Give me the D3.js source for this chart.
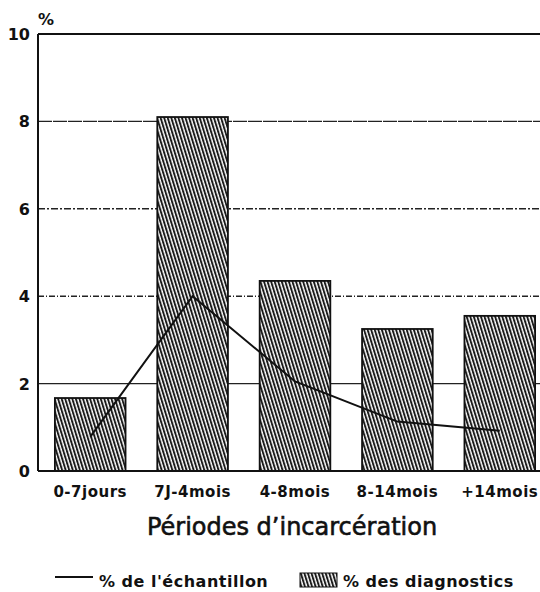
<!DOCTYPE html>
<html>
<head>
<meta charset="utf-8">
<script src="https://cdn.jsdelivr.net/npm/d3@7"></script>
<style>
  body { margin: 0; background: #fff; }
  svg { display: block; font-family: "DejaVu Sans", "Liberation Sans", sans-serif; }
  .tick-label { font-weight: bold; font-size: 16px; fill: #111; }
  .cat-label { font-weight: bold; font-size: 15px; fill: #111; letter-spacing: 0.5px; }
  .leg-label { font-weight: bold; font-size: 16px; fill: #111; letter-spacing: 0.5px; }
</style>
</head>
<body>
<div id="chart"></div>
<script>
const categories = ["0-7jours", "7J-4mois", "4-8mois", "8-14mois", "+14mois"];
const diagnostics = [1.67, 8.1, 4.35, 3.25, 3.55];
const echantillon = [0.78, 4.0, 2.05, 1.13, 0.92];
const yTicks = [0, 2, 4, 6, 8, 10];

const width = 540, height = 592;
const margin = { top: 34, right: -12, bottom: 121, left: 38 };
const innerW = width - margin.left - margin.right;
const innerH = height - margin.top - margin.bottom;

const svg = d3.select("#chart").append("svg").attr("width", width).attr("height", height);

const defs = svg.append("defs");
const hatch = defs.append("pattern")
  .attr("id", "hatch")
  .attr("patternUnits", "userSpaceOnUse")
  .attr("width", 3.4).attr("height", 4)
  .attr("patternTransform", "rotate(-17)");
hatch.append("rect").attr("width", 3.4).attr("height", 4).attr("fill", "#fff");
hatch.append("line").attr("x1", 1).attr("y1", 0).attr("x2", 1).attr("y2", 4)
  .attr("stroke", "#151515").attr("stroke-width", 1.9);

const g = svg.append("g").attr("transform", `translate(${margin.left},${margin.top})`);

const x = d3.scaleBand().domain(categories).range([0, innerW])
  .paddingInner(0.31).paddingOuter(0.165);
const y = d3.scaleLinear().domain([0, 10]).range([innerH, 0]);

// grid lines, each with its own dash look
const gridDash = { 2: null, 4: "6 2 1 2", 6: "7 2 2 2", 8: "14 1" };
g.append("g").selectAll("line")
  .data([2, 4, 6, 8])
  .join("line")
  .attr("x1", 0).attr("x2", innerW)
  .attr("y1", d => y(d)).attr("y2", d => y(d))
  .attr("stroke", "#222")
  .attr("stroke-width", 1.4)
  .attr("stroke-dasharray", d => gridDash[d]);

// frame: top, left
g.append("line").attr("x1", 0).attr("x2", innerW).attr("y1", y(10)).attr("y2", y(10))
  .attr("stroke", "#111").attr("stroke-width", 2);
g.append("line").attr("x1", 0).attr("x2", 0).attr("y1", y(10)).attr("y2", y(0))
  .attr("stroke", "#111").attr("stroke-width", 2);

// bars
g.append("g").selectAll("rect")
  .data(categories)
  .join("rect")
  .attr("x", d => x(d))
  .attr("width", x.bandwidth())
  .attr("y", (d, i) => y(diagnostics[i]))
  .attr("height", (d, i) => y(0) - y(diagnostics[i]))
  .attr("fill", "url(#hatch)")
  .attr("stroke", "#111")
  .attr("stroke-width", 1.8);

g.append("line").attr("x1", 0).attr("x2", innerW).attr("y1", y(0)).attr("y2", y(0))
  .attr("stroke", "#111").attr("stroke-width", 2.2);

// line series
const line = d3.line()
  .x((d, i) => x(categories[i]) + x.bandwidth() / 2)
  .y(d => y(d));
g.append("path")
  .datum(echantillon)
  .attr("d", line)
  .attr("fill", "none")
  .attr("stroke", "#111")
  .attr("stroke-width", 2);

// y tick labels
g.append("g").selectAll("text")
  .data(yTicks)
  .join("text")
  .attr("class", "tick-label")
  .attr("x", -8)
  .attr("y", d => y(d) + 6)
  .attr("text-anchor", "end")
  .text(d => d);

g.append("text").attr("class", "tick-label")
  .attr("x", 0).attr("y", -9).attr("font-size", 14).text("%");

// category labels
g.append("g").selectAll("text")
  .data(categories)
  .join("text")
  .attr("class", "cat-label")
  .attr("x", d => x(d) + x.bandwidth() / 2)
  .attr("y", innerH + 26)
  .attr("text-anchor", "middle")
  .text(d => d);

// title, slightly heavier than the regular weight
svg.append("text")
  .attr("x", 292).attr("y", 535)
  .attr("text-anchor", "middle")
  .attr("font-size", 24)
  .attr("fill", "#111")
  .attr("stroke", "#111")
  .attr("stroke-width", 0.6)
  .text("Périodes d’incarcération");

// legend
const leg = svg.append("g").attr("transform", "translate(0,581)");
leg.append("line").attr("x1", 55).attr("x2", 93).attr("y1", -4).attr("y2", -4)
  .attr("stroke", "#111").attr("stroke-width", 2);
leg.append("text").attr("class", "leg-label").attr("x", 99).attr("y", 6)
  .text("% de l'échantillon");
leg.append("rect").attr("x", 300).attr("y", -8).attr("width", 37).attr("height", 14)
  .attr("fill", "url(#hatch)").attr("stroke", "#111").attr("stroke-width", 1);
leg.append("text").attr("class", "leg-label").attr("x", 343).attr("y", 6)
  .text("% des diagnostics");
</script>
</body>
</html>
